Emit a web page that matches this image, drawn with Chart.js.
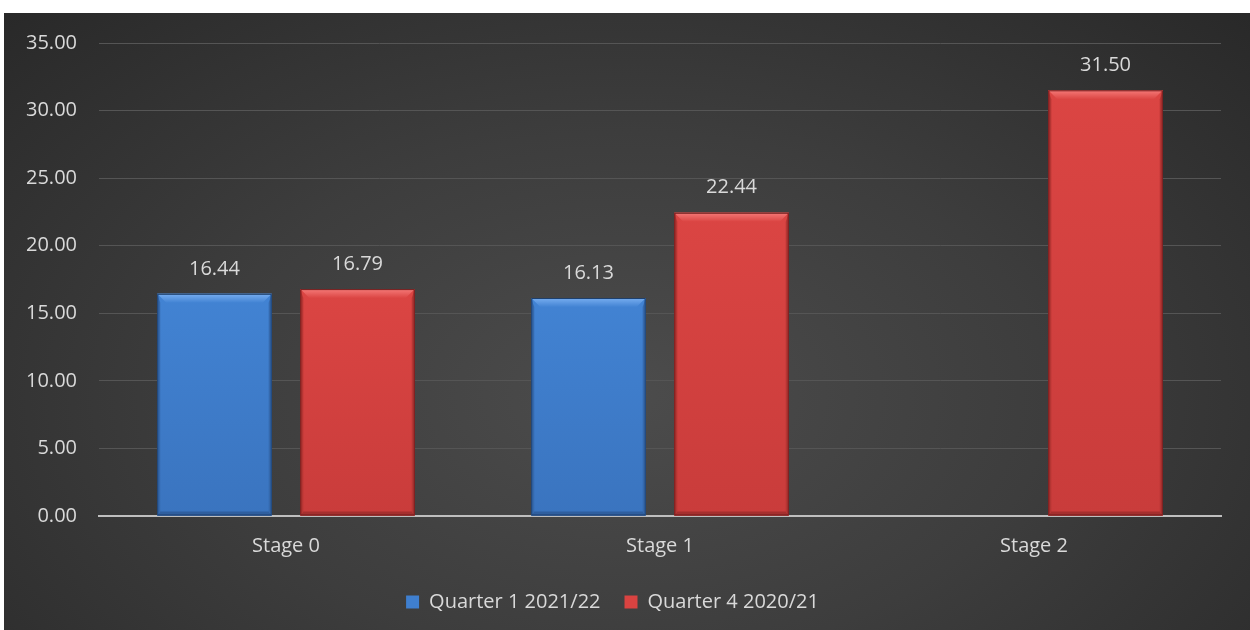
<!DOCTYPE html>
<html>
<head>
<meta charset="utf-8">
<script src="https://cdn.jsdelivr.net/npm/chart.js"></script>
<style>
  html, body { margin: 0; padding: 0; background: #fff; }
  #wrap {
    position: absolute; left: 4px; top: 13px; width: 1246px; height: 617px; overflow: hidden;
    background: radial-gradient(ellipse 75% 95% at 50% 62%, #4c4c4c 0%, #3d3d3d 45%, #262626 100%);
  }
  #chart { position: absolute; left: 0; top: -4px; }
</style>
</head>
<body>
<div id="wrap"><canvas id="chart" width="1246" height="621"></canvas></div>
<script>
// values
var stages = ['Stage 0', 'Stage 1', 'Stage 2'];
var q1_2122 = [16.44, 16.13, null];
var q4_2021 = [16.79, 22.44, 31.50];
var yTicks = [0, 5, 10, 15, 20, 25, 30, 35];

var FONT = '"Open Sans", sans-serif';
var TXT = '#d9d9d9';
var FS = 20;

// bevelled bars + value labels
var bevelPlugin = {
  id: 'bevel',
  afterDatasetsDraw: function (chart) {
    var ctx = chart.ctx;
    chart.data.datasets.forEach(function (ds, i) {
      var meta = chart.getDatasetMeta(i);
      meta.data.forEach(function (bar, j) {
        if (ds.data[j] == null) return;
        var p = bar.getProps(['x', 'y', 'base', 'width'], true);
        var l = p.x - p.width / 2, r = p.x + p.width / 2, t = p.y, b = p.base;
        var bt = 9, bs = 3, bb = 4;
        ctx.save();
        // body with slight darkening to the bottom
        var g = ctx.createLinearGradient(0, t, 0, b);
        g.addColorStop(0, ds.top);
        g.addColorStop(1, ds.bottom);
        ctx.fillStyle = g;
        ctx.fillRect(l, t, p.width, b - t);
        // bottom facet
        ctx.fillStyle = ds.bevelBottom;
        ctx.beginPath();
        ctx.moveTo(l, b); ctx.lineTo(r, b); ctx.lineTo(r - bs, b - bb); ctx.lineTo(l + bs, b - bb);
        ctx.closePath(); ctx.fill();
        // left and right facets
        ctx.fillStyle = ds.bevelSide;
        ctx.beginPath();
        ctx.moveTo(l, t); ctx.lineTo(l + bs, t + bt); ctx.lineTo(l + bs, b - bb); ctx.lineTo(l, b);
        ctx.closePath(); ctx.fill();
        ctx.beginPath();
        ctx.moveTo(r, t); ctx.lineTo(r - bs, t + bt); ctx.lineTo(r - bs, b - bb); ctx.lineTo(r, b);
        ctx.closePath(); ctx.fill();
        // top facet
        var gt = ctx.createLinearGradient(0, t, 0, t + bt);
        gt.addColorStop(0, ds.bevelTop);
        gt.addColorStop(1, ds.top);
        ctx.fillStyle = gt;
        ctx.beginPath();
        ctx.moveTo(l, t); ctx.lineTo(r, t); ctx.lineTo(r - bt, t + bt); ctx.lineTo(l + bt, t + bt);
        ctx.closePath(); ctx.fill();
        // outline
        ctx.strokeStyle = ds.edge;
        ctx.lineWidth = 1;
        ctx.strokeRect(l + 0.5, t + 0.5, p.width - 1, b - t - 1);
        // value label
        ctx.fillStyle = TXT;
        ctx.font = FS + 'px ' + FONT;
        ctx.textAlign = 'center';
        ctx.textBaseline = 'middle';
        ctx.fillText(ds.data[j].toFixed(2), p.x, t - 25);
        ctx.restore();
      });
    });
  }
};

new Chart(document.getElementById('chart'), {
  type: 'bar',
  data: {
    labels: stages,
    datasets: [
      {
        label: 'Quarter 1 2021/22',
        data: q1_2122,
        backgroundColor: '#3f7fcf',
        top: '#4283d3', bottom: '#3a74bf',
        bevelTop: '#78aef0', bevelSide: '#3569ad', bevelBottom: '#2f5f9f', edge: '#1e3f6c',
        borderWidth: 0
      },
      {
        label: 'Quarter 4 2020/21',
        data: q4_2021,
        backgroundColor: '#d94341',
        top: '#db4543', bottom: '#c93c3b',
        bevelTop: '#f57a78', bevelSide: '#b53533', bevelBottom: '#a52f2e', edge: '#6e1c1c',
        borderWidth: 0
      }
    ]
  },
  options: {
    responsive: false,
    animation: false,
    categoryPercentage: 0.765,
    barPercentage: 0.8,
    layout: { padding: { left: 0, right: 29, top: 16, bottom: 8 } },
    plugins: {
      tooltip: { enabled: false },
      legend: {
        position: 'bottom',
        labels: {
          color: TXT,
          font: { family: FONT, size: FS },
          boxWidth: 13, boxHeight: 13,
          padding: 24
        }
      }
    },
    scales: {
      x: {
        grid: { display: false },
        border: { color: '#bfbfbf', width: 2 },
        ticks: { color: TXT, font: { family: FONT, size: FS }, padding: 10 }
      },
      y: {
        min: 0, max: 35,
        afterBuildTicks: function (axis) {
          axis.ticks = yTicks.map(function (v) { return { value: v }; });
        },
        grid: { color: '#555555', lineWidth: 1, drawTicks: false },
        border: { display: false },
        ticks: {
          color: TXT, font: { family: FONT, size: FS }, padding: 22,
          callback: function (v) { return Number(v).toFixed(2); }
        }
      }
    }
  },
  plugins: [bevelPlugin]
});
</script>
</body>
</html>
